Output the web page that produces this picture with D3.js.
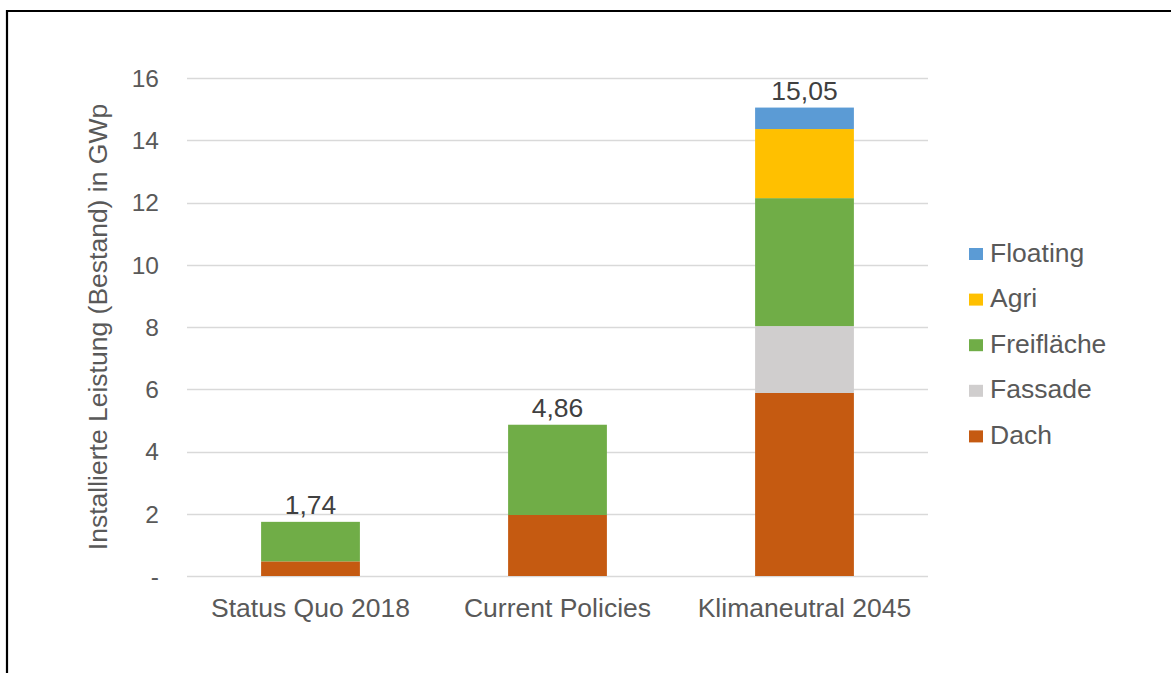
<!DOCTYPE html>
<html><head><meta charset="utf-8">
<script src="https://cdn.jsdelivr.net/npm/d3@7"></script>
<style>body{margin:0;background:#fff;}svg{display:block;font-family:"Liberation Sans",Arial,sans-serif;}</style>
</head><body>
<svg id="c" width="1171" height="673"></svg>
<script>
const categories = ["Status Quo 2018", "Current Policies", "Klimaneutral 2045"];
const seriesNames = ["Dach", "Fassade", "Freifläche", "Agri", "Floating"];
const seriesColors = ["#C55A11", "#D0CECE", "#70AD47", "#FFC000", "#5B9BD5"];
const dach = [0.47, 1.96, 5.88];
const fassade = [0, 0, 2.15];
const freiflaeche = [1.27, 2.90, 4.11];
const agri = [0, 0, 2.22];
const floating = [0, 0, 0.69];
const totals = ["1,74", "4,86", "15,05"];
const yTicks = [0, 2, 4, 6, 8, 10, 12, 14, 16];
const yTickLabels = ["-", "2", "4", "6", "8", "10", "12", "14", "16"];

const seriesValues = [dach, fassade, freiflaeche, agri, floating];
const rows = categories.map((c, i) => {
  const r = {cat: c};
  seriesNames.forEach((s, j) => r[s] = seriesValues[j][i]);
  return r;
});
const stacked = d3.stack().keys(seriesNames)(rows);

const svg = d3.select("#c");
// frame lines
svg.append("line").attr("x1", 6).attr("x2", 1171).attr("y1", 11).attr("y2", 11).attr("stroke", "#000").attr("stroke-width", 2.2);
svg.append("line").attr("x1", 7).attr("x2", 7).attr("y1", 10).attr("y2", 673).attr("stroke", "#000").attr("stroke-width", 2.2);

const x = d3.scaleBand().domain(categories).range([187, 928]).paddingInner(0.6).paddingOuter(0.3);
const y = d3.scaleLinear().domain([0, 16]).range([576, 78]);

// gridlines
svg.append("g").selectAll("line").data(yTicks).join("line")
  .attr("x1", 187).attr("x2", 928)
  .attr("y1", d => Math.round(y(d)) + 0.5).attr("y2", d => Math.round(y(d)) + 0.5)
  .attr("stroke", "#D9D9D9").attr("stroke-width", 1.5);

// y tick labels
svg.append("g").selectAll("text").data(yTicks).join("text")
  .attr("x", 159).attr("y", d => y(d) + 8.8)
  .attr("text-anchor", "end").attr("font-size", 24.5).attr("fill", "#595959")
  .text((d, i) => yTickLabels[i]);

// y axis title
svg.append("text")
  .attr("transform", "translate(107," + 327 + ") rotate(-90)")
  .attr("text-anchor", "middle").attr("font-size", 26.5).attr("fill", "#595959")
  .text("Installierte Leistung (Bestand) in GWp");

// bars
svg.append("g").selectAll("g").data(stacked).join("g")
  .attr("fill", (d, i) => seriesColors[i])
  .selectAll("rect").data(d => d).join("rect")
  .attr("x", d => x(d.data.cat))
  .attr("width", x.bandwidth())
  .attr("y", d => y(d[1]))
  .attr("height", d => Math.max(0, y(d[0]) - y(d[1])));

// total labels
svg.append("g").selectAll("text").data(categories).join("text")
  .attr("x", d => x(d) + x.bandwidth() / 2)
  .attr("y", (d, i) => y(d3.sum(seriesValues, s => s[i])) - 8)
  .attr("text-anchor", "middle").attr("font-size", 26.5).attr("fill", "#404040")
  .text((d, i) => totals[i]);

// category labels
svg.append("g").selectAll("text").data(categories).join("text")
  .attr("x", d => x(d) + x.bandwidth() / 2).attr("y", 617)
  .attr("text-anchor", "middle").attr("font-size", 26.5).attr("fill", "#595959")
  .text(d => d);

// legend
const legendOrder = seriesNames.map((s, i) => i).reverse();
const lg = svg.append("g").selectAll("g").data(legendOrder).join("g")
  .attr("transform", (d, k) => "translate(969," + (254 + k * 45.6) + ")");
lg.append("rect").attr("x", 0).attr("y", -6).attr("width", 14).attr("height", 12).attr("fill", d => seriesColors[d]);
lg.append("text").attr("x", 21).attr("y", 7.5)
  .attr("font-size", 26.5).attr("fill", "#595959").text(d => seriesNames[d]);
</script>
</body></html>
